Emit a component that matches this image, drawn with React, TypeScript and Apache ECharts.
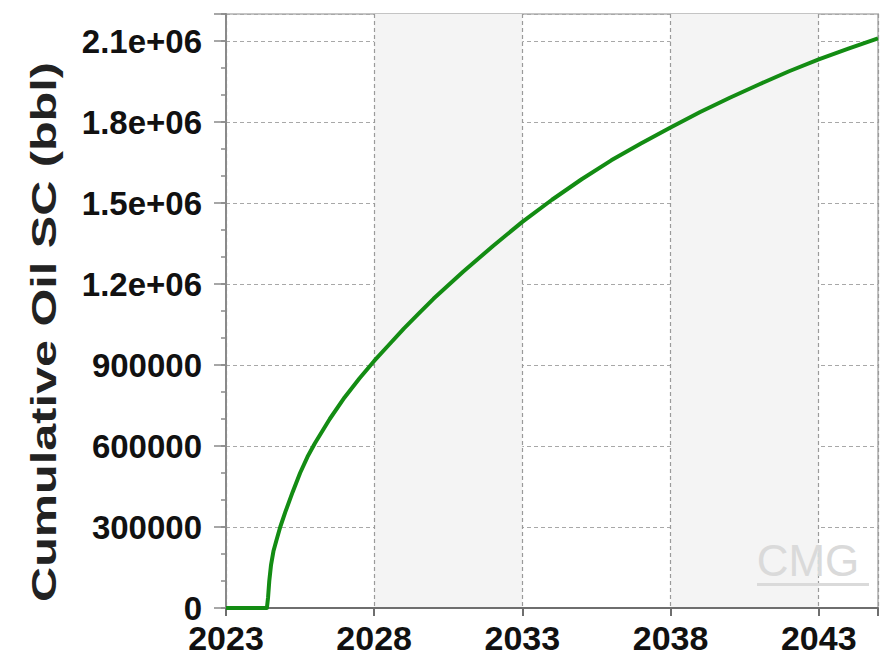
import React, { useEffect, useRef } from "react";
import * as echarts from "echarts";

const years = [
  2023.0, 2024.2, 2024.38, 2024.42, 2024.46, 2024.52, 2024.6, 2024.7, 2024.83, 2025.0,
  2025.25, 2025.5, 2025.75, 2026.0, 2026.5, 2027.0, 2027.5, 2028.0, 2028.5, 2029.0,
  2029.5, 2030.0, 2031.0, 2032.0, 2033.0, 2034.0, 2035.0, 2036.0, 2037.0, 2038.0,
  2039.0, 2040.0, 2041.0, 2042.0, 2043.0, 2044.0, 2045.0,
];
const cumOil = [
  0, 0, 0, 40000, 100000, 160000, 210000, 250000, 300000, 355000,
  430000, 500000, 560000, 610000, 700000, 780000, 850000, 915000, 975000, 1035000,
  1090000, 1145000, 1245000, 1340000, 1430000, 1512000, 1588000, 1658000, 1720000, 1780000,
  1837000, 1890000, 1940000, 1988000, 2032000, 2072000, 2110000,
];
const xTickStart = 2023;
const xTickStep = 5;
const yTickStep = 300000;
const yTitle = "Cumulative Oil SC (bbl)";
const logoText = "CMG";

const FONT = "'Liberation Sans', Arial, sans-serif";

function fmtY(v: number): string {
  if (v >= 2200000 - 1) return "";
  if (v === 0) return "0";
  if (v >= 1000000) {
    const m = v / 1000000;
    return m.toFixed(1) + "e+06";
  }
  return String(Math.round(v));
}

export default function App() {
  const ref = useRef<HTMLDivElement>(null);
  useEffect(() => {
    document.body.style.margin = "0";
    if (!ref.current) return;
    const chart = echarts.init(ref.current, undefined, { renderer: "svg" });
    const data = years.map((y, i) => [y, cumOil[i]]);
    chart.setOption({
      animation: false,
      backgroundColor: "#ffffff",
      grid: {
        left: 226,
        top: 14,
        bottom: 48,
        right: -7,
        show: true,
        borderColor: "#c4c4c4",
        borderWidth: 2,
        backgroundColor: "transparent",
      },
      xAxis: {
        type: "value",
        min: 2023,
        max: 2045,
        interval: xTickStep,
        axisLine: { show: true, lineStyle: { color: "#6e6e6e", width: 2 } },
        axisTick: { show: true, length: 8, lineStyle: { color: "#6e6e6e", width: 2 } },
        axisLabel: {
          color: "#111",
          fontFamily: FONT,
          fontWeight: "bold",
          fontSize: 34,
          lineHeight: 34,
          margin: 13,
          formatter: (v: number) =>
            Math.abs(((v - xTickStart) % xTickStep)) < 1e-6 ? String(Math.round(v)) : "",
        },
        splitLine: { show: true, lineStyle: { color: "#9a9a9a", type: [4, 3], width: 1.2 } },
        splitArea: { show: true, areaStyle: { color: ["rgba(255,255,255,0)", "#f4f4f4"] } },
      },
      yAxis: [
        {
          type: "value",
          position: "left",
          min: 0,
          max: 2200000,
          interval: yTickStep,
          axisLine: { show: true, lineStyle: { color: "#8a8a8a", width: 2 } },
          axisTick: { show: true, length: 12, lineStyle: { color: "#8a8a8a", width: 1.5 } },
          axisLabel: {
            color: "#111",
            fontFamily: FONT,
            fontWeight: "bold",
            fontSize: 33,
            lineHeight: 24,
            margin: 24,
            formatter: fmtY,
          },
          splitLine: { show: true, lineStyle: { color: "#a8a8a8", type: [4, 3], width: 1.2 } },
        },
        {
          type: "value",
          position: "left",
          min: 0,
          max: 2200000,
          interval: 100000,
          axisLine: { show: false },
          axisTick: { show: true, length: 5, lineStyle: { color: "#8a8a8a", width: 1.5 } },
          axisLabel: { show: false },
          splitLine: { show: false },
        },
      ],
      graphic: [
        {
          type: "text",
          rotation: Math.PI / 2,
          x: 43,
          y: 332,
          scaleX: 1.35,
          z: 100,
          style: {
            text: yTitle,
            fill: "#222",
            font: `bold 36px ${FONT}`,
            textAlign: "center",
            textVerticalAlign: "middle",
          },
        },
        {
          type: "text",
          x: 808,
          y: 560,
          z: 100,
          style: {
            text: logoText,
            fill: "#dadada",
            font: `44px ${FONT}`,
            textAlign: "center",
            textVerticalAlign: "middle",
          },
        },
        {
          type: "rect",
          z: 100,
          shape: { x: 757, y: 583, width: 112, height: 3 },
          style: { fill: "#dadada" },
        },
      ],
      series: [
        {
          type: "line",
          yAxisIndex: 0,
          data,
          showSymbol: false,
          smooth: false,
          z: 10,
          lineStyle: { color: "#138c13", width: 4, join: "round" },
          itemStyle: { color: "#138c13" },
        },
      ],
    });
    return () => chart.dispose();
  }, []);
  return <div ref={ref} style={{ width: 881, height: 656 }} />;
}
